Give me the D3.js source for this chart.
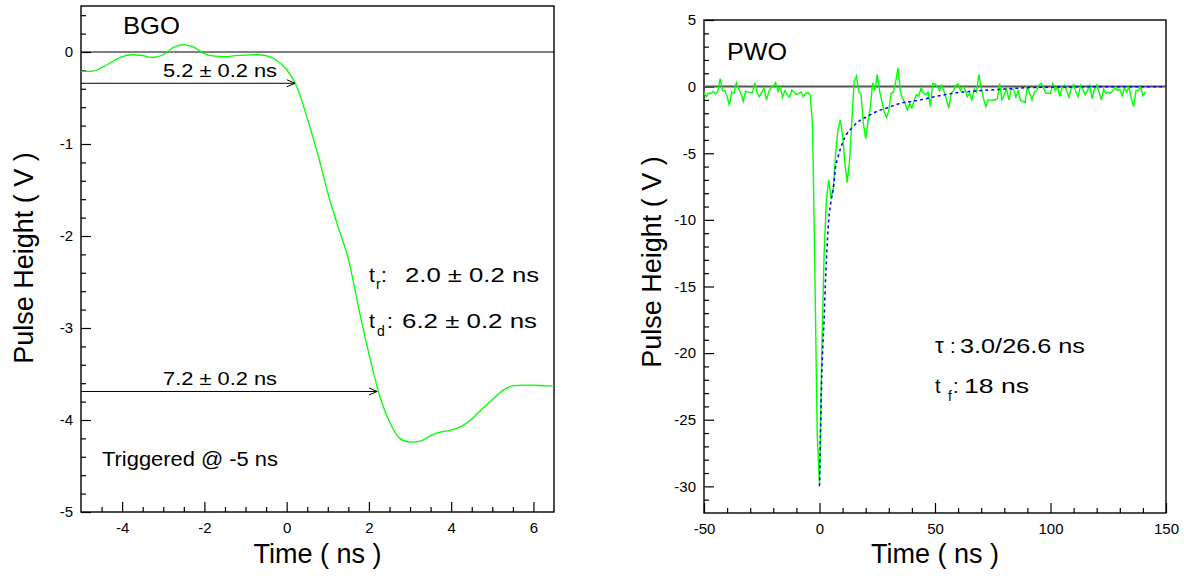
<!DOCTYPE html>
<html>
<head>
<meta charset="utf-8">
<script src="https://cdn.jsdelivr.net/npm/d3@7"></script>
<style>
  body { margin: 0; background: #fff; }
  text { font-family: "Liberation Sans", Arial, Helvetica, sans-serif; fill: #000; }
</style>
</head>
<body>
<div id="chart"></div>
<script>

// BGO pulse (left pad)
var bgoTime = [-5, -4.75, -4.5, -4.25, -4, -3.75, -3.5, -3.25, -3, -2.75, -2.5, -2.25, -2, -1.75, -1.5, -1.25,
  -1, -0.75, -0.5, -0.25, 0, 0.25, 0.5, 0.75, 1, 1.25, 1.5, 1.75, 2, 2.25, 2.5, 2.75, 3, 3.25, 3.5, 3.75,
  4, 4.25, 4.5, 4.75, 5, 5.25, 5.5, 5.75, 6, 6.25, 6.5];
var bgoVolt = [-0.21, -0.21, -0.17, -0.11, -0.05, -0.03, -0.04, -0.06, -0.03, 0.05, 0.08, 0.05, -0.02, -0.045, -0.05, -0.04,
  -0.033, -0.03, -0.04, -0.09, -0.19, -0.38, -0.72, -1.1, -1.53, -1.9, -2.25, -2.78, -3.28, -3.72, -4.02, -4.2, -4.24, -4.23, -4.17, -4.13,
  -4.11, -4.07, -3.99, -3.88, -3.78, -3.68, -3.63, -3.62, -3.62, -3.63, -3.63];

var bgoXTicks = [-4, -2, 0, 2, 4, 6];
var bgoYTicks = [0, -1, -2, -3, -4, -5];

// arrows: from trigger to the crossing points
var arrowLevel = [-0.34, -3.69];
var arrowFrom = [-5, -5];
var arrowTo = [0.2, 2.2];
var arrowText = ["5.2 \u00b1 0.2 ns", "7.2 \u00b1 0.2 ns"];

// PWO pulse (right pad), sampled every 1 ns starting at -50 ns
var pwoStart = -50;
var pwoStep = 1;
var pwoVolt = [
  -0.45, -0.75, -0.5, -0.5, -0.37, -0.55, -0.35, 0.6, -0.3, -0.3,
  -0.75, -1.4, -0.4, -0.5, 0.3, -0.15, -0.5, -1.1, -0.35, -0.4,
  -0.45, -0.45, 0.3, -0.5, -0.75, -0.4, -0.15, -1.0, -0.4, -0.05,
  0.0, 0.3, -0.35, 0.0, -0.8, -0.3, -0.6, -0.8, -0.25, -0.4,
  -0.6, -0.5, -0.4, -0.75, -0.5, -0.45, -0.6, -3.0, -14, -26,
  -29.8, -20, -12.5, -8.5, -7.0, -8.4, -7.6, -5.0, -3.2, -2.5,
  -3.6, -5.8, -7.2, -5.6, -2.6, 0.4, 0.8, -0.4, -0.6, -2.8,
  -3.9, -2.6, -1.6, 0.3, -0.3, 0.9, -0.3, -1.1, -1.9, -2.3,
  -1.8, -0.5, -0.4, 0.4, 1.4, -0.4, -0.9, -1.2, -1.75, -1.3,
  -1.6, -1.0, -0.6, -0.7, -0.1, -0.5, -0.6, -0.4, -1.5, 0.25,
  0.2, 0.0, -0.3, 0.1, -0.4, -1.0, -1.6, -0.5, -0.3, 0.1,
  0.2, -0.3, 0.0, -0.2, -0.75, -0.5, -1.0, -0.2, -0.4, 0.9,
  -0.1, -0.9, -1.5, -1.0, -1.05, -1.0, -1.0, -0.9, 0.25, -1.0,
  -0.6, -0.2, -1.0, -0.2, -0.2, -0.8, -0.3, -1.0, -1.1, -1.2,
  0.0, -0.5, -1.0, -0.4, -0.3, 0.1, 0.25, -0.1, -0.5, -0.5,
  -0.5, 0.25, -0.3, 0.0, -0.75, -0.1, 0.1, -0.3, -0.8, -0.1,
  0.15, -0.4, -0.75, 0.1, -0.2, -0.6, -0.3, 0.1, -0.9, -0.2,
  0.1, -0.4, -1.0, -0.2, -0.5, -0.4, -0.5, -0.3, 0.0, -0.3,
  -0.2, -0.7, -0.1, -0.4, 0.0, -0.9, -1.5, -0.3, -0.3, 0.0,
  -0.7, -0.4];

// two-exponential fit (blue dashed)
var fitTime = [0, 0.5, 1, 1.5, 2, 2.5, 3, 3.5, 4, 5, 6, 7, 8, 9, 10, 12, 14, 17, 20, 25, 30, 35, 40, 45, 50, 60, 70, 80, 90, 100, 120, 150];
var fitVolt = [-30, -25.5, -21.5, -19.3, -17.5, -15, -13, -11.3, -10, -8.6, -7.6, -6.0, -5.3, -4.7, -4.2, -3.5, -3.1, -2.6, -2.3, -1.85, -1.55, -1.25, -1.1, -0.95, -0.75, -0.45, -0.3, -0.18, -0.08, -0.04, -0.01, 0];

var pwoXTicks = [-50, 0, 50, 100, 150];
var pwoYTicks = [5, 0, -5, -10, -15, -20, -25, -30];

var svgWidth = 1184;
var svgHeight = 576;

var svg = d3.select("#chart")
  .append("svg")
  .attr("width", svgWidth)
  .attr("height", svgHeight);

svg.append("defs").append("marker")
  .attr("id", "head")
  .attr("markerUnits", "userSpaceOnUse")
  .attr("viewBox", "-10 -5 12 10")
  .attr("refX", 0)
  .attr("refY", 0)
  .attr("markerWidth", 12)
  .attr("markerHeight", 10)
  .attr("orient", "auto")
  .append("path")
  .attr("d", "M-8,-3.5L0,0L-8,3.5")
  .attr("fill", "none")
  .attr("stroke", "#000")
  .attr("stroke-width", 1);

// draws one ROOT-style pad: frame, inward ticks, labels, titles
function drawPad(p) {
  var x = d3.scaleLinear().domain(p.xDomain).range([p.left, p.right]);
  var y = d3.scaleLinear().domain(p.yDomain).range([p.bottom, p.top]);

  var g = svg.append("g");

  // minor ticks
  g.append("g")
    .attr("transform", `translate(${p.left},0)`)
    .call(d3.axisLeft(y).tickValues(p.yMinor).tickSize(-5).tickFormat(""))
    .call(a => a.select(".domain").remove());
  g.append("g")
    .attr("transform", `translate(0,${p.bottom})`)
    .call(d3.axisBottom(x).tickValues(p.xMinor).tickSize(-5).tickFormat(""))
    .call(a => a.select(".domain").remove());

  // major ticks + labels
  var yAxis = g.append("g")
    .attr("transform", `translate(${p.left},0)`)
    .call(d3.axisLeft(y).tickValues(p.yTicks).tickSize(-10).tickPadding(8).tickFormat(d3.format("d")));
  yAxis.select(".domain").remove();
  yAxis.selectAll("text").style("font-size", "15px").attr("font-family", null);

  var xAxis = g.append("g")
    .attr("transform", `translate(0,${p.bottom})`)
    .call(d3.axisBottom(x).tickValues(p.xTicks).tickSize(-10).tickPadding(10).tickFormat(d3.format("d")));
  xAxis.select(".domain").remove();
  xAxis.selectAll("text").style("font-size", "15px").attr("font-family", null);

  g.selectAll(".tick line").attr("stroke", "#000").attr("stroke-width", 1.2);
  g.selectAll(".tick text").text(function() { return this.textContent.replace("\u2212", "-"); });

  // frame
  g.append("rect")
    .attr("x", p.left)
    .attr("y", p.top)
    .attr("width", p.right - p.left)
    .attr("height", p.bottom - p.top)
    .attr("fill", "none")
    .attr("stroke", "#000")
    .attr("stroke-width", 1.4);

  // zero line
  g.append("line")
    .attr("x1", x(p.xDomain[0])).attr("x2", x(p.xDomain[1]))
    .attr("y1", y(0)).attr("y2", y(0))
    .attr("stroke", p.zeroColor)
    .attr("stroke-width", p.zeroWidth);

  // axis titles
  g.append("text")
    .attr("x", (p.left + p.right) / 2)
    .attr("y", 563)
    .attr("text-anchor", "middle")
    .style("font-size", "27px")
    .text("Time ( ns )");

  g.append("text")
    .attr("transform", `translate(${p.yTitleX},${p.yTitleY}) rotate(-90)`)
    .attr("text-anchor", "middle")
    .style("font-size", "27px")
    .text("Pulse Height ( V )");

  return { x: x, y: y, g: g };
}

// ---- left pad: BGO ----
var left = drawPad({
  left: 81, right: 554, top: 6, bottom: 512,
  xDomain: [-5, 6.5], yDomain: [-5, 0.5],
  xTicks: bgoXTicks, yTicks: bgoYTicks,
  xMinor: [-4.5, -3.5, -3, -2.5, -1.5, -1, -0.5, 0.5, 1, 1.5, 2.5, 3, 3.5, 4.5, 5, 5.5],
  yMinor: [0.4, 0.2, -0.2, -0.4, -0.6, -0.8, -1.2, -1.4, -1.6, -1.8, -2.2, -2.4, -2.6, -2.8,
           -3.2, -3.4, -3.6, -3.8, -4.2, -4.4, -4.6, -4.8],
  zeroColor: "#000", zeroWidth: 1,
  yTitleX: 33, yTitleY: 258
});

var bgoLine = d3.line()
  .x((d, i) => left.x(bgoTime[i]))
  .y(d => left.y(d))
  .curve(d3.curveMonotoneX);

left.g.append("path")
  .attr("d", bgoLine(bgoVolt))
  .attr("fill", "none")
  .attr("stroke", "#00ff00")
  .attr("stroke-width", 1.3);

arrowLevel.forEach(function(lv, i) {
  left.g.append("line")
    .attr("x1", left.x(arrowFrom[i]))
    .attr("x2", left.x(arrowTo[i]))
    .attr("y1", left.y(lv))
    .attr("y2", left.y(lv))
    .attr("stroke", "#000")
    .attr("stroke-width", 1)
    .attr("marker-end", "url(#head)");
  left.g.append("text")
    .attr("x", 163)
    .attr("y", left.y(lv) - 6)
    .attr("textLength", 114)
    .attr("lengthAdjust", "spacingAndGlyphs")
    .style("font-size", "19px")
    .text(arrowText[i]);
});

left.g.append("text").attr("x", 123).attr("y", 34)
  .attr("textLength", 57).attr("lengthAdjust", "spacingAndGlyphs")
  .style("font-size", "24px").text("BGO");

left.g.append("text").attr("x", 102).attr("y", 466)
  .attr("textLength", 176).attr("lengthAdjust", "spacingAndGlyphs")
  .style("font-size", "20px").text("Triggered @ -5 ns");

// t_r and t_d
left.g.append("text").attr("x", 369).attr("y", 282).style("font-size", "21px").text("t");
left.g.append("text").attr("x", 376).attr("y", 289).style("font-size", "14px").text("r");
left.g.append("text").attr("x", 381).attr("y", 282).style("font-size", "21px").text(":");
left.g.append("text").attr("x", 405).attr("y", 282)
  .attr("textLength", 134).attr("lengthAdjust", "spacingAndGlyphs")
  .style("font-size", "20px").text("2.0 \u00b1 0.2 ns");

left.g.append("text").attr("x", 369).attr("y", 328).style("font-size", "21px").text("t");
left.g.append("text").attr("x", 377).attr("y", 336).style("font-size", "14px").text("d");
left.g.append("text").attr("x", 387).attr("y", 328).style("font-size", "21px").text(":");
left.g.append("text").attr("x", 402).attr("y", 328)
  .attr("textLength", 135).attr("lengthAdjust", "spacingAndGlyphs")
  .style("font-size", "20px").text("6.2 \u00b1 0.2 ns");

// ---- right pad: PWO ----
var pwoXMinor = [-40, -30, -20, -10, 10, 20, 30, 40, 60, 70, 80, 90, 110, 120, 130, 140];
var pwoYMinor = [4, 3, 2, 1, -1, -2, -3, -4, -6, -7, -8, -9, -11, -12, -13, -14, -16, -17, -18, -19,
  -21, -22, -23, -24, -26, -27, -28, -29, -31];

var right = drawPad({
  left: 704, right: 1166, top: 20, bottom: 513,
  xDomain: [-50, 150], yDomain: [-32, 5],
  xTicks: pwoXTicks, yTicks: pwoYTicks,
  xMinor: pwoXMinor, yMinor: pwoYMinor,
  zeroColor: "#555", zeroWidth: 2,
  yTitleX: 661, yTitleY: 262
});

var pwoLine = d3.line()
  .x((d, i) => right.x(pwoStart + i * pwoStep))
  .y(d => right.y(d));

right.g.append("path")
  .attr("d", pwoLine(pwoVolt))
  .attr("fill", "none")
  .attr("stroke", "#00ff00")
  .attr("stroke-width", 1.4);

var fitLine = d3.line()
  .x((d, i) => right.x(fitTime[i]))
  .y(d => right.y(d))
  .curve(d3.curveMonotoneX);

right.g.append("path")
  .attr("d", fitLine(fitVolt))
  .attr("fill", "none")
  .attr("stroke", "#0000ff")
  .attr("stroke-width", 1.5)
  .attr("stroke-dasharray", "3,3");

right.g.append("text").attr("x", 727).attr("y", 60)
  .attr("textLength", 60).attr("lengthAdjust", "spacingAndGlyphs")
  .style("font-size", "24px").text("PWO");

right.g.append("text").attr("x", 935).attr("y", 353).style("font-size", "22px").text("\u03c4");
right.g.append("text").attr("x", 950).attr("y", 353).style("font-size", "20px").text(":");
right.g.append("text").attr("x", 960).attr("y", 353)
  .attr("textLength", 125).attr("lengthAdjust", "spacingAndGlyphs")
  .style("font-size", "20px").text("3.0/26.6 ns");

right.g.append("text").attr("x", 935).attr("y", 393).style("font-size", "20px").text("t");
right.g.append("text").attr("x", 948).attr("y", 401).style("font-size", "14px").text("f");
right.g.append("text").attr("x", 953).attr("y", 393).style("font-size", "20px").text(":");
right.g.append("text").attr("x", 964).attr("y", 393)
  .attr("textLength", 65).attr("lengthAdjust", "spacingAndGlyphs")
  .style("font-size", "20px").text("18 ns");

</script>
</body>
</html>
